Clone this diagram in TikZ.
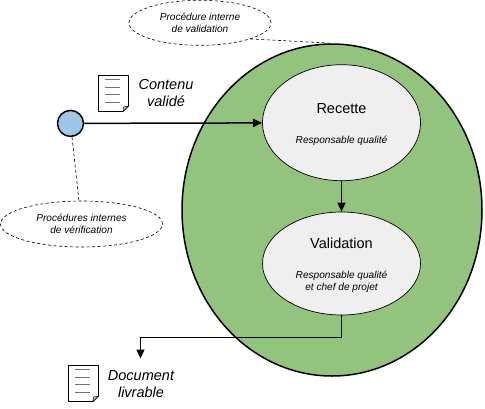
\documentclass[tikz,border=0pt]{standalone}
\usepackage{fontspec}
\setmainfont{Liberation Sans}
\usetikzlibrary{arrows.meta,shapes.geometric}
\definecolor{biggreen}{HTML}{93C47D}
\definecolor{lightgrey}{HTML}{EFEFEF}
\definecolor{lightblue}{HTML}{9FC5E8}
\tikzset{
  stage/.style={ellipse,draw=black,line width=0.7pt,fill=lightgrey,inner sep=0pt,minimum width=158pt},
  note/.style={ellipse,draw=black,dash pattern=on 3pt off 2.5pt,line width=0.6pt,fill=white,inner sep=0pt,align=center,font=\fontsize{10.1}{12.4}\selectfont\itshape,minimum height=45pt},
  flow/.style={line width=1.5pt,-{Triangle[length=9pt,width=8pt]}},
  leader/.style={dash pattern=on 3pt off 2.5pt,line width=0.6pt},
  big/.style={font=\fontsize{14.5}{17}\selectfont},
  small/.style={font=\fontsize{10.1}{12.2}\selectfont\itshape,align=center},
  caption/.style={font=\fontsize{14.5}{17}\selectfont\itshape,align=center},
  docline/.style={line width=0.5pt,black!55}
}
\newcommand{\docicon}[2]{%
  \draw[line width=0.7pt,fill=white] (#1,#2) -- ++(30,0) -- ++(0,30.5) -- ++(-5.5,5.5) -- ++(-24.5,0) -- cycle;
  \draw[line width=0.5pt,fill=black!20] (#1+30,#2+30.5) -- ++(-5,1) -- ++(-0.5,4.5) -- cycle;
  \foreach \k in {0,1,2,3}
    \draw[docline] (#1+6.5,#2+4+7.6*\k) -- ++(14.5,0);
}
\begin{document}
\begin{tikzpicture}[x=1pt,y=-1pt]
\useasboundingbox (0,0) rectangle (485,408);
\node[ellipse,draw=black,line width=1.5pt,fill=biggreen,inner sep=0pt,minimum width=300pt,minimum height=332pt] (outer) at (332,210) {};
\node[stage,minimum height=116pt] (recette) at (341.5,122.7) {};
\node[stage,minimum height=103pt] (validation) at (341.5,263.5) {};
\node[big] (t1) at (341.5,109) {Recette};
\node[small] (s1) at (341.5,141) {Responsable qualité};
\node[big] (t2) at (341.5,243) {Validation};
\node[small] (s2) at (341.5,281.5) {Responsable qualité\\et chef de projet};
\node[circle,draw=black,line width=1.5pt,fill=lightblue,minimum size=26pt,inner sep=0pt] (start) at (70.5,123.4) {};
\node[note,minimum width=142pt] (n1) at (200,22.8) {Procédure interne\\de validation};
\node[note,minimum width=162pt,minimum height=46pt] (n2) at (81.5,224) {Procédures internes\\de vérification};
\coordinate (bendA) at (341.5,337.5);
\coordinate (bendB) at (140.5,337.5);
\coordinate (out) at (140.5,358.5);
\draw[leader] (n1.south east) -- (outer.north);
\draw[leader] (start) -- (n2);
\draw[flow] (start) -- (recette);
\draw[flow] (recette) -- (validation);
\draw[flow] (validation) -- (bendA) -- (bendB) -- (out);
\docicon{98.5}{75.5}
\docicon{68.5}{365.5}
\node[caption] (c1) at (166,93.5) {Contenu\\validé};
\node[caption] (c2) at (141,384) {Document\\livrable};
\end{tikzpicture}
\end{document}
